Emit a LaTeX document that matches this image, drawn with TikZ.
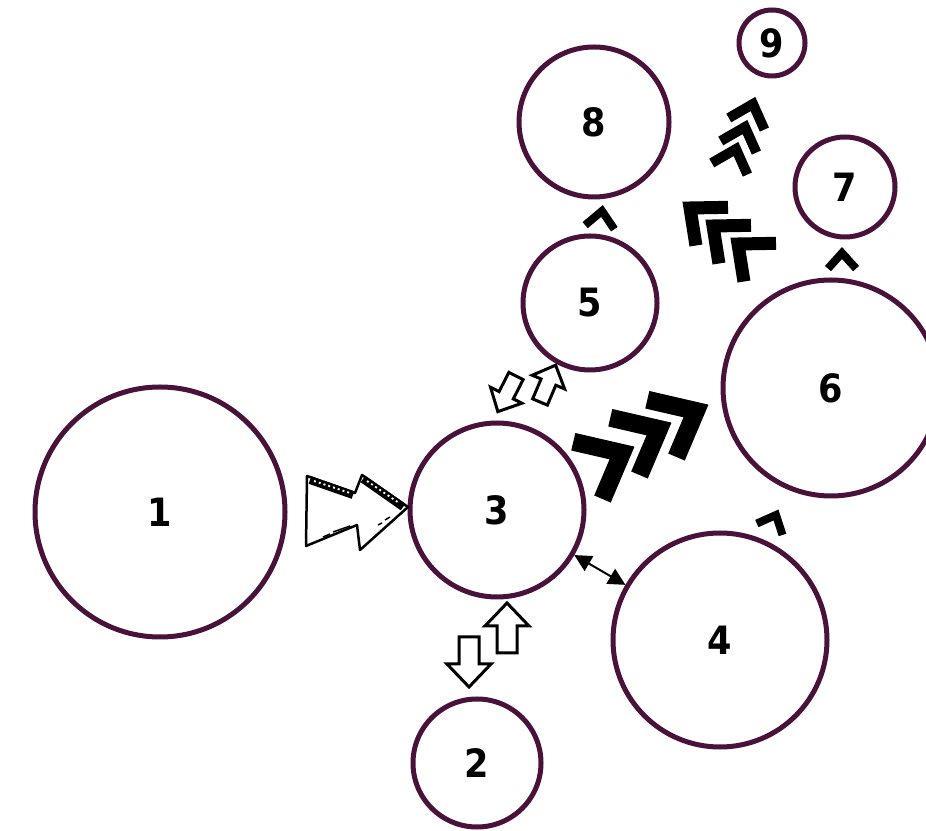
\documentclass[tikz,border=0pt]{standalone}
\usepackage{fontspec}
\newfontfamily\labelfont{DejaVu Sans Condensed}
\usetikzlibrary{arrows.meta}
\definecolor{ringpurple}{RGB}{72, 18, 58}

\begin{document}
\begin{tikzpicture}[x=1pt, y=1pt,
    ring/.style={circle, draw=ringpurple, line width=5pt, inner sep=0pt,
        font=\labelfont\bfseries\fontsize{39}{39}\selectfont},
    pics/chev/.style n args={3}{code={%
        \draw[line width=#1pt, line join=miter]
            ({-#2*cos(#3)},{#2*sin(#3)}) -- (0,0) -- ({-#2*cos(#3)},{-#2*sin(#3)});}},
    pics/blockarrow/.style={code={%
        \draw[line width=3pt, line join=miter, fill=white]
            (0,-10) -- (27,-10) -- (27,-22) -- (50,0) -- (27,22) -- (27,10) -- (0,10) -- cycle;}}
]
    \clip (0,0) rectangle (926,830);

    % Circles
    \node[ring, minimum size=250pt] (n1) at (160,318) {1};
    \node[ring, minimum size=174pt] (n3) at (497,320) {3};
    \node[ring, minimum size=128pt] (n2) at (477,67) {2};
    \node[ring, minimum size=214pt] (n4) at (720,190) {4};
    \node[ring, minimum size=134pt] (n5) at (590,527) {5};
    \node[ring, minimum size=216pt] (n6) at (831,442) {6};
    \node[ring, minimum size=100pt] (n7) at (845,643) {7};
    \node[ring, minimum size=150pt] (n8) at (594,708) {8};
    \node[ring, minimum size=66pt] (n9) at (772,787) {9};

    % Sketchy double arrow from 1 to 3
    \draw[line width=2.5pt, line join=round, fill=white]
        (307,354) -- (355,337) -- (362,355) -- (408,323) -- (360,280) -- (357,305) -- (306,284) -- cycle;
    \draw[line width=8pt] (310,350) -- (353,335);
    \draw[line width=8pt] (363,351) -- (403,323);
    \draw[white, line width=1.8pt, dash pattern=on 2pt off 3pt] (314,349) -- (350,337);
    \draw[white, line width=1.8pt, dash pattern=on 2pt off 3pt] (367,349) -- (399,327);
    \draw[line width=1.5pt] (323,293) -- (330,296) (333,298) -- (350,304);
    \draw[line width=1.5pt] (378,305) -- (382,307) (385,310) -- (390,313);

    % Hollow arrows between 3 and 2, 3 and 5
    \pic[rotate=90] at (507,177) {blockarrow};
    \pic[rotate=-90] at (469,193) {blockarrow};
    \pic[rotate=243, scale=0.8] at (516,454) {blockarrow};
    \pic[rotate=67, scale=0.8] at (540,428) {blockarrow};

    % Double arrow between 3 and 4
    \draw[line width=2pt, {Triangle[length=17pt, width=17pt]}-{Triangle[length=17pt, width=17pt]}] (n3) -- (n4);

    % Chevrons from 3 to 6
    \pic[rotate=27] at (622,377) {chev={18}{50}{40}};
    \pic[rotate=27] at (659,401) {chev={18}{50}{40}};
    \pic[rotate=27] at (696,419) {chev={18}{50}{40}};

    % Chevrons from 6 towards 8
    \pic[rotate=140] at (690,622) {chev={13}{38}{41}};
    \pic[rotate=140] at (713,604) {chev={13}{38}{41}};
    \pic[rotate=140] at (738,586) {chev={13}{38}{41}};

    % Chevrons towards 9
    \pic[rotate=72] at (753,726) {chev={10}{28}{42}};
    \pic[rotate=72] at (745,703) {chev={10}{28}{42}};
    \pic[rotate=72] at (736,681) {chev={10}{28}{42}};

    % Single small chevrons
    \pic[rotate=82] at (602,619) {chev={8}{22}{42}};
    \pic[rotate=90] at (842,577) {chev={8}{21}{42}};
    \pic[rotate=66] at (776,315) {chev={8}{21}{42}};
\end{tikzpicture}
\end{document}
